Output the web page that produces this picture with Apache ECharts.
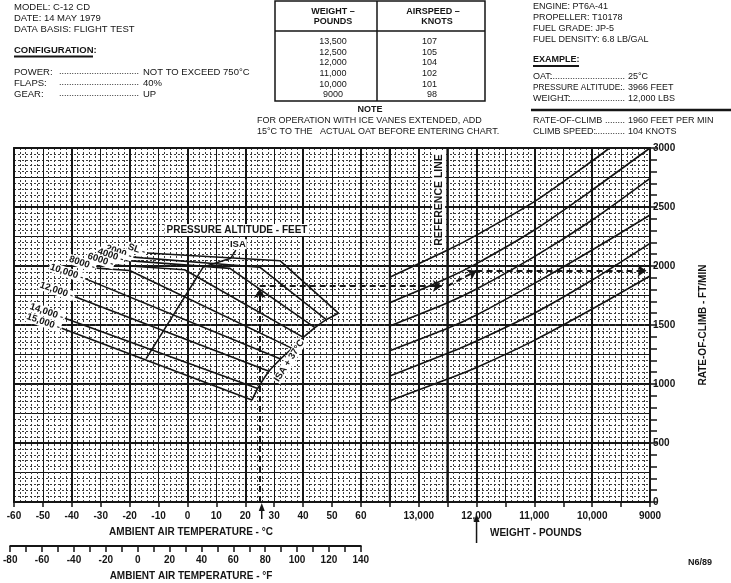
<!DOCTYPE html>
<html><head><meta charset="utf-8">
<script src="https://cdn.jsdelivr.net/npm/echarts@6/dist/echarts.min.js"></script>
<style>html,body{margin:0;padding:0;background:#fff}#c{width:731px;height:583px}</style>
</head><body><div id="c"></div>
<script>
// ---------------- DATA ----------------
// Left panel: pressure altitude lines  [ambient temperature °C, rate of climb ft/min]
const altitudeNames = ['SL', '2000', '4000', '6000', '8000', '10,000', '12,000', '14,000', '15,000'];
const altSL    = [[-14, 2110], [32, 2045], [52.2, 1600]];
const alt2000  = [[-18.7, 2075], [25, 1990], [48, 1545]];
const alt4000  = [[-21.5, 2048], [14.7, 1980], [44.1, 1477]];
const alt6000  = [[-25, 2008], [-1, 1968], [40.1, 1395]];
const alt8000  = [[-31.4, 1982], [-20, 1962], [36.2, 1302]];
const alt10000 = [[-35.4, 1893], [32.2, 1212]];
const alt12000 = [[-38.9, 1740], [28.2, 1108]];
const alt14000 = [[-42.4, 1557], [24.3, 962]];
const alt15000 = [[-43.5, 1472], [22.3, 864]];
const altitudeLines = [altSL, alt2000, alt4000, alt6000, alt8000, alt10000, alt12000, alt14000, alt15000];
const isaLine   = [[-14.3, 1215], [5.5, 1992], [15, 2066]];
const isa37Line = [[52.2, 1600], [48, 1545], [44.1, 1477], [40.1, 1395], [36.2, 1302], [32.2, 1212], [28.2, 1108], [24.3, 962], [22.3, 864]];

// Right panel: weight guide lines  [weight lb, rate of climb ft/min]
const guide1 = [[13500, 1905], [12500, 2135], [12000, 2262], [11000, 2545], [10000, 2890], [9700, 3000]];
const guide2 = [[13500, 1689], [12500, 1898], [12000, 2020], [11000, 2305], [10000, 2644], [9000, 3000]];
const guide3 = [[13500, 1492], [12500, 1689], [12000, 1805], [11000, 2079], [10000, 2390], [9000, 2743]];
const guide4 = [[13500, 1282], [12500, 1472], [12000, 1585], [11000, 1853], [10000, 2136], [9000, 2432]];
const guide5 = [[13500, 1068], [12500, 1260], [12000, 1365], [11000, 1600], [10000, 1881], [9000, 2192]];
const guide6 = [[13500, 859], [12500, 1042], [12000, 1140], [11000, 1370], [10000, 1635], [9000, 1915]];
const guideLines = [guide1, guide2, guide3, guide4, guide5, guide6];
const referenceWeight = 12500;
const panelStartWeight = 13500;

// Example
const exampleOAT = 25;
const exampleROCAtReference = 1831;
const exampleWeight = 12000;
const exampleROC = 1960;

// Axis ranges / ticks
const tempMin = -60, tempMax = 160, tempLabelMax = 60;
const weightMin = 9000, weightMax = 20000, weightLabelMax = 13000;
const rocMin = 0, rocMax = 3000;
const fMin = -80, fMax = 140;

// Table
const tableWeights = ['13,500', '12,500', '12,000', '11,000', '10,000', '9000'];
const tableAirspeeds = ['107', '105', '104', '102', '101', '98'];

// ---------------- CHART ----------------
const F = '"Liberation Sans", Arial, Helvetica, sans-serif';
const ink = '#151515';
const chart = echarts.init(document.getElementById('c'), null, {renderer: 'canvas'});

const axisFont = {color: ink, fontFamily: F, fontWeight: 'bold', fontSize: 10};
const minorStyle = {color: '#3a3a3a', width: 1, type: [2, 2]};
const series = [];
altitudeLines.forEach((d, i) => series.push({
  type: 'line', name: altitudeNames[i], xAxisIndex: 0, yAxisIndex: 0, data: d,
  symbol: 'none', silent: true, z: 5, lineStyle: {color: ink, width: 1.6}
}));
series.push({type: 'line', name: 'ISA', xAxisIndex: 0, yAxisIndex: 0, data: isaLine, symbol: 'none', silent: true, z: 5, lineStyle: {color: ink, width: 1.6}});
series.push({type: 'line', name: 'ISA+37', xAxisIndex: 0, yAxisIndex: 0, data: isa37Line, symbol: 'none', silent: true, z: 5, smooth: 0.2, lineStyle: {color: ink, width: 1.6}});
guideLines.forEach((d, i) => series.push({
  type: 'line', name: 'guide' + (i + 1), xAxisIndex: 2, yAxisIndex: 0, data: d,
  symbol: 'none', silent: true, z: 5, smooth: 0.25, lineStyle: {color: ink, width: 1.6}
}));
series.push({type: 'line', name: 'reference', xAxisIndex: 2, yAxisIndex: 0, data: [[referenceWeight, rocMin], [referenceWeight, rocMax]], symbol: 'none', silent: true, z: 4, lineStyle: {color: ink, width: 2.5}});
series.push({type: 'line', name: 'panelEdge', xAxisIndex: 2, yAxisIndex: 0, data: [[panelStartWeight, rocMin], [panelStartWeight, rocMax]], symbol: 'none', silent: true, z: 4, lineStyle: {color: ink, width: 2}});
// example dashed paths
const dash = {color: ink, width: 2, type: [6, 4]};
series.push({type: 'line', name: 'exTemp', xAxisIndex: 0, yAxisIndex: 0, data: [], silent: true,
  markLine: {silent: true, animation: false, symbol: ['none', 'arrow'], symbolSize: 9, label: {show: false}, lineStyle: dash,
    data: [
      [{coord: [exampleOAT, rocMin]}, {coord: [exampleOAT, exampleROCAtReference - 25]}],
      [{coord: [exampleOAT, exampleROCAtReference]}, {coord: [88, exampleROCAtReference]}]
    ]}});
series.push({type: 'line', name: 'exWeight', xAxisIndex: 2, yAxisIndex: 0, data: [], silent: true,
  markLine: {silent: true, animation: false, symbol: ['none', 'arrow'], symbolSize: 9, label: {show: false}, lineStyle: dash,
    data: [
      [{coord: [referenceWeight, exampleROCAtReference]}, {coord: [exampleWeight, exampleROC]}],
      [{coord: [exampleWeight, exampleROC]}, {coord: [weightMin + 60, exampleROC]}],
      [{coord: [exampleWeight, rocMin], symbol: 'none'}, {coord: [exampleWeight, exampleROC], symbol: 'none'}]
    ]}});

const option = {
  animation: false,
  backgroundColor: '#fff',
  grid: [
    {left: 14, right: 81, top: 148, bottom: 81, show: false},
    {left: 7.6, right: 370.2, top: 540, height: 6, show: false}
  ],
  xAxis: [
    {type: 'value', gridIndex: 0, min: tempMin, max: tempMax, interval: 10, position: 'bottom',
      axisLine: {show: true, onZero: false, lineStyle: {color: ink, width: 2}},
      axisTick: {show: true, length: 5, lineStyle: {color: ink, width: 1.5}},
      axisLabel: Object.assign({margin: 9, formatter: v => v <= tempLabelMax ? String(v) : ''}, axisFont),
      splitLine: {show: true, lineStyle: {color: ink, width: 1}},
      minorTick: {show: false, splitNumber: 5},
      minorSplitLine: {show: true, lineStyle: minorStyle}},
    {type: 'value', gridIndex: 0, min: tempMin, max: tempMax, interval: 20, position: 'top',
      axisLine: {show: true, onZero: false, lineStyle: {color: ink, width: 2}},
      axisTick: {show: false}, axisLabel: {show: false},
      splitLine: {show: true, lineStyle: {color: ink, width: 2}}},
    {type: 'value', gridIndex: 0, min: weightMin, max: weightMax, inverse: true, interval: 1000, position: 'bottom', offset: 0,
      axisLine: {show: false}, axisTick: {show: false}, splitLine: {show: false},
      axisLabel: Object.assign({margin: 9, formatter: v => v <= weightLabelMax ? (v >= 10000 ? v.toLocaleString('en-US') : String(v)) : ''}, axisFont)},
    {type: 'value', gridIndex: 1, min: fMin, max: fMax, interval: 10, position: 'bottom',
      axisLine: {show: true, onZero: false, lineStyle: {color: ink, width: 2}},
      axisTick: {show: true, length: 6, lineStyle: {color: ink, width: 1.5}},
      axisLabel: Object.assign({margin: 9, formatter: v => v % 20 === 0 ? String(v) : ''}, axisFont),
      splitLine: {show: false}}
  ],
  yAxis: [
    {type: 'value', gridIndex: 0, min: rocMin, max: rocMax, interval: 500, position: 'right',
      axisLine: {show: true, onZero: false, lineStyle: {color: ink, width: 2}},
      axisTick: {show: true, length: 7, lineStyle: {color: ink, width: 1.5}},
      minorTick: {show: true, splitNumber: 5, length: 7, lineStyle: {color: ink, width: 1.5}},
      axisLabel: Object.assign({margin: 3, formatter: v => String(v)}, axisFont),
      splitLine: {show: true, lineStyle: {color: ink, width: 2}},
      name: 'RATE-OF-CLIMB - FT/MIN', nameLocation: 'middle', nameRotate: 90, nameGap: 48,
      nameTextStyle: axisFont},
    {type: 'value', gridIndex: 0, min: rocMin, max: rocMax, interval: 250, position: 'left',
      axisLine: {show: true, onZero: false, lineStyle: {color: ink, width: 2}},
      axisTick: {show: false}, axisLabel: {show: false},
      splitLine: {show: true, lineStyle: {color: ink, width: 1}},
      minorTick: {show: false, splitNumber: 5},
      minorSplitLine: {show: true, lineStyle: minorStyle}},
    {type: 'value', gridIndex: 1, show: false}
  ],
  series: series
};
chart.setOption(option);

// ---------------- ANNOTATIONS ----------------
function T(x, y, text, o) {
  o = o || {};
  const st = {x: 0, y: 0, text: text, fill: ink, font: (o.bold ? 'bold ' : '') + (o.size || 9) + 'px ' + F,
    align: o.align || 'left', verticalAlign: 'middle', textAlign: o.align || 'left', textVerticalAlign: 'middle'};
  if (o.bg) { st.backgroundColor = o.bg; st.padding = o.pad || [1, 2]; }
  if (o.dx) st.x = o.dx;
  const el = {type: 'text', x: x, y: y, rotation: o.rot || 0, z: 100, silent: true, style: st};
  if (o.sx) el.scaleX = o.sx;
  return el;
}
function L(x1, y1, x2, y2, w) {
  return {type: 'line', z: 100, silent: true, shape: {x1: x1, y1: y1, x2: x2, y2: y2}, style: {stroke: ink, lineWidth: w || 1}};
}
function upArrow(x, yTop, yBot) {
  return [L(x, yTop + 6, x, yBot, 1.5),
    {type: 'polygon', z: 100, silent: true, shape: {points: [[x, yTop], [x - 3, yTop + 8], [x + 3, yTop + 8]]}, style: {fill: ink}}];
}
const dots = n => '.'.repeat(n);
const g = [];
// top-left block
g.push(T(14, 7, 'MODEL: C-12 CD', {size: 9.5}), T(14, 18, 'DATE: 14 MAY 1979', {size: 9.5}), T(14, 29.5, 'DATA BASIS: FLIGHT TEST', {size: 9.5}));
g.push(T(14, 50, 'CONFIGURATION:', {bold: true, size: 9.5}), L(14, 56.5, 93, 56.5, 2));
[['POWER:', 'NOT TO EXCEED 750\u00B0C', 72], ['FLAPS:', '40%', 83], ['GEAR:', 'UP', 94]].forEach(r => {
  g.push(T(14, r[2], r[0], {size: 9.5}), T(139, r[2], dots(32), {align: 'right'}), T(143, r[2], r[1], {size: 9.5}));
});
// table
g.push({type: 'rect', z: 100, silent: true, shape: {x: 275, y: 1, width: 210, height: 100}, style: {fill: 'none', stroke: ink, lineWidth: 1.5}});
g.push(L(275, 31, 485, 31, 1.5), L(377, 1, 377, 101, 1.5));
g.push(T(333, 12, 'WEIGHT \u2013', {bold: true, align: 'center'}), T(333, 22, 'POUNDS', {bold: true, align: 'center'}));
g.push(T(433, 12, 'AIRSPEED \u2013', {bold: true, align: 'center'}), T(437, 22, 'KNOTS', {bold: true, align: 'center'}));
tableWeights.forEach((w, i) => {
  const y = 41.5 + i * 10.7;
  g.push(T(333, y, w, {align: 'center'}), T(437, y, tableAirspeeds[i], {align: 'right'}));
});
g.push(T(370, 110, 'NOTE', {bold: true, align: 'center'}));
g.push(T(257, 121, 'FOR OPERATION WITH ICE VANES EXTENDED, ADD'));
g.push(T(257, 132, '15\u00B0C TO THE   ACTUAL OAT BEFORE ENTERING CHART.'));
// top-right block
g.push(T(533, 7, 'ENGINE: PT6A-41'), T(533, 18, 'PROPELLER: T10178'), T(533, 29, 'FUEL GRADE: JP-5'), T(533, 40, 'FUEL DENSITY: 6.8 LB/GAL'));
g.push(T(533, 60, 'EXAMPLE:', {bold: true}), L(533, 66, 579, 66, 2));
[['OAT:', '25\u00B0C', 77, 30, 1], ['PRESSURE ALTITUDE:', '3966 FEET', 88, 2, 0.92], ['WEIGHT:', '12,000 LBS', 99, 26, 1]].forEach(r => {
  g.push(T(533, r[2], r[0], {sx: r[4]}), T(625, r[2], dots(r[3]), {align: 'right'}), T(628, r[2], r[1]));
});
g.push(L(531, 110, 731, 110, 2.5));
[['RATE-OF-CLIMB', '1960 FEET PER MIN', 121, 8], ['CLIMB SPEED:', '104 KNOTS', 132, 12]].forEach(r => {
  g.push(T(533, r[2], r[0]), T(625, r[2], dots(r[3]), {align: 'right'}), T(628, r[2], r[1]));
});

// chart labels
g.push(T(237, 230, 'PRESSURE ALTITUDE - FEET', {bold: true, align: 'center', bg: '#fff', size: 10}));
altitudeLines.forEach((d, i) => {
  const p = chart.convertToPixel({seriesIndex: i}, d[0]);
  g.push(T(p[0], p[1], altitudeNames[i] + ' -', {bold: true, align: 'right', rot: -0.33, dx: -1, bg: '#fff', pad: [0, 1], size: 9.5}));
});
const isaTop = chart.convertToPixel({seriesIndex: altitudeLines.length}, isaLine[isaLine.length - 1]);
g.push(T(isaTop[0] + 7, isaTop[1] - 14, 'ISA', {bold: true, align: 'center', bg: '#fff', pad: [0, 1], size: 9.5}), L(isaTop[0] + 5, isaTop[1] - 8, isaTop[0], isaTop[1], 1.5));
const b1 = chart.convertToPixel({seriesIndex: altitudeLines.length + 1}, isa37Line[4]);
const b2 = chart.convertToPixel({seriesIndex: altitudeLines.length + 1}, isa37Line[5]);
g.push(T((b1[0] + b2[0]) / 2 + 3, (b1[1] + b2[1]) / 2 + 7, 'ISA + 37\u00B0C', {bold: true, align: 'center', rot: 1.0, bg: '#fff', pad: [0, 1], size: 9.5}));
const refX = chart.convertToPixel({xAxisIndex: 2}, referenceWeight);
const refY = chart.convertToPixel({yAxisIndex: 0}, 2560);
g.push(T(refX - 9, refY, 'REFERENCE LINE', {bold: true, align: 'center', rot: Math.PI / 2, bg: '#fff', pad: [1, 2], size: 10.5}));

// bottom titles & arrows
g.push(T(191, 532, 'AMBIENT AIR TEMPERATURE - \u00B0C', {bold: true, align: 'center', size: 10}));
g.push(T(490, 533, 'WEIGHT - POUNDS', {bold: true, size: 10}));
g.push(T(191, 576, 'AMBIENT AIR TEMPERATURE - \u00B0F', {bold: true, align: 'center', size: 10}));
g.push(T(700, 563, 'N6/89', {bold: true, align: 'center', size: 9}));
const oatX = chart.convertToPixel({xAxisIndex: 0}, exampleOAT);
upArrow(oatX + 2, 503, 519).forEach(e => g.push(e));
const wX = chart.convertToPixel({xAxisIndex: 2}, exampleWeight);
upArrow(wX, 514, 543).forEach(e => g.push(e));

chart.setOption({graphic: {elements: g}});
</script>
</body></html>
